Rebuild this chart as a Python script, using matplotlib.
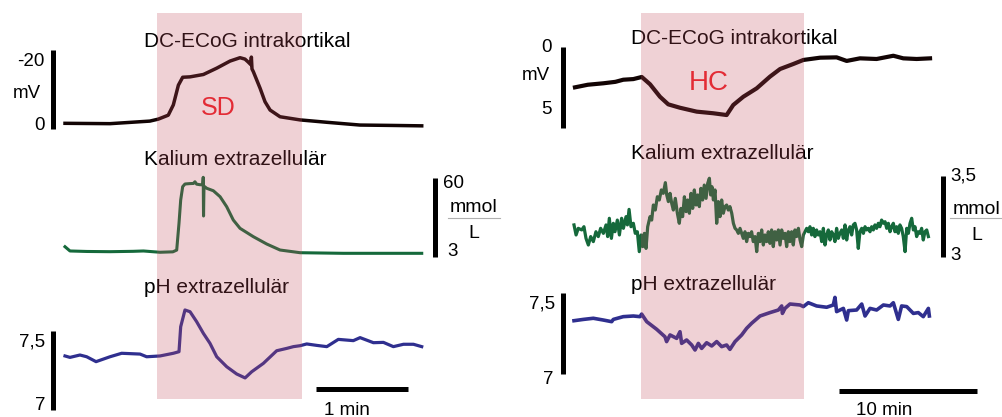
import matplotlib
matplotlib.use("Agg")
import matplotlib.pyplot as plt
from matplotlib.lines import Line2D
from matplotlib.transforms import blended_transform_factory

plt.rcParams["font.family"] = ["Liberation Sans", "DejaVu Sans"]

# ---------------- left panel: spreading depolarisation (time in s) ----------------
SD_EVENT = (60.7, 155.0)

sd_dc_t = [0.65, 30.0, 56.0, 61.5, 68.0, 71.3, 74.6, 77.4, 82.2, 90.9, 99.6, 108.3,
           114.8, 118.0, 120.0, 121.8, 122.2, 122.6, 123.5, 127.9, 131.1, 134.4,
           140.9, 154.0, 171.4, 193.0, 214.8, 233.3]
sd_dc_mv = [-1.44, -1.35, -2.0, -2.5, -3.5, -6.1, -11.1, -13.1, -13.2, -13.8, -15.4, -17.2,
            -18.05, -17.7, -17.0, -16.3, -18.2, -15.2, -14.5, -10.3, -6.9, -4.8,
            -3.1, -2.3, -1.7, -1.0, -0.9, -0.8]

sd_k_t = [0.65, 3.9, 15.0, 30.0, 45.0, 51.8, 62.6, 71.0, 73.5, 75.0, 76.1, 77.4, 78.9,
          82.0, 84.4, 85.4, 86.5, 88.7, 90.5, 90.8, 91.0, 91.3, 93.1, 97.4, 101.8,
          106.1, 110.4, 114.8, 123.5, 132.2, 140.9, 154.0, 182.2, 214.8, 233.3]
sd_k_mm = [4.43, 3.77, 3.70, 3.67, 3.72, 3.77, 3.59, 3.65, 3.9, 10.8, 26.0, 43.2, 47.8,
           48.5, 48.8, 52.0, 47.5, 46.5, 46.5, 61.6, 14.2, 44.0, 40.6, 37.0, 29.5,
           20.2, 12.2, 8.9, 6.48, 4.91, 3.91, 3.53, 3.45, 3.45, 3.45]

sd_ph_t = [0.65, 3.9, 10.4, 14.8, 20.9, 30.0, 37.6, 49.6, 53.9, 62.6, 71.3, 75.0, 76.1,
           78.9, 82.2, 86.5, 90.9, 95.2, 99.6, 106.1, 112.6, 118.1, 122.4, 130.0,
           138.7, 145.3, 149.6, 154.0, 158.3, 164.8, 171.4, 178.9, 188.7, 193.1,
           201.8, 208.3, 214.8, 221.4, 227.9, 233.3]
sd_ph = [7.342, 7.333, 7.348, 7.337, 7.306, 7.337, 7.359, 7.354, 7.337, 7.342, 7.359,
         7.369, 7.527, 7.633, 7.622, 7.559, 7.485, 7.422, 7.337, 7.274, 7.228, 7.203,
         7.242, 7.295, 7.375, 7.390, 7.401, 7.407, 7.418, 7.409, 7.401, 7.447, 7.439,
         7.458, 7.426, 7.428, 7.401, 7.416, 7.416, 7.401]

# ---------------- right panel: hypoxia / HC (time in min) ----------------
HC_EVENT = (4.86, 16.64)

hc_dc_t = [0.07, 1.0, 2.13, 3.0, 3.57, 4.3, 4.91, 5.51, 6.23, 6.83, 7.68, 8.89, 10.09,
           11.06, 11.54, 12.27, 13.24, 14.20, 14.93, 15.89, 16.62, 17.83, 19.03, 19.76,
           20.72, 21.93, 23.14, 23.86, 24.83, 25.80]
hc_dc_mv = [2.49, 2.33, 2.24, 2.15, 2.02, 1.98, 1.85, 2.30, 3.07, 3.54, 3.75, 3.99, 4.09,
            4.20, 3.58, 3.07, 2.55, 1.83, 1.36, 1.05, 0.80, 0.66, 0.64, 0.86,
            0.70, 0.74, 0.54, 0.70, 0.74, 0.70]

hc_k_t = [0.00, 0.15, 0.31, 0.56, 0.72, 0.87, 1.04, 1.21, 1.40, 1.59, 1.76, 1.93, 2.13,
          2.32, 2.44, 2.56, 2.71, 2.85, 2.97, 3.14, 3.29, 3.45, 3.58, 3.77, 3.87, 3.99,
          4.13, 4.30, 4.44, 4.59, 4.73, 4.86, 4.98, 5.10, 5.22, 5.34, 5.51, 5.63, 5.75,
          5.89, 6.04, 6.18, 6.33, 6.47, 6.62, 6.72, 6.84, 6.96, 7.08, 7.20, 7.34, 7.49,
          7.63, 7.75, 7.87, 8.00, 8.12, 8.24, 8.36, 8.48, 8.60, 8.72, 8.84, 8.96, 9.08,
          9.20, 9.32, 9.44, 9.57, 9.69, 9.81, 9.90, 10.00, 10.10, 10.22,
          10.34, 10.46, 10.58, 10.70, 10.82, 10.94, 11.06, 11.18, 11.30, 11.43, 11.55,
          11.67, 11.79, 11.91, 12.03, 12.15, 12.27, 12.39, 12.51, 12.63, 12.75, 12.87,
          12.99, 13.12, 13.24, 13.36, 13.48, 13.60, 13.72, 13.84, 13.96, 14.08, 14.20,
          14.32, 14.44, 14.56, 14.69, 14.81, 14.93, 15.05, 15.17, 15.29, 15.41, 15.53,
          15.65, 15.77, 15.89, 16.01, 16.13, 16.26, 16.38, 16.50, 16.62, 16.74, 16.86,
          16.98, 17.10, 17.22, 17.34, 17.46, 17.58, 17.70, 17.83, 17.95, 18.07, 18.19,
          18.31, 18.43, 18.55, 18.67, 18.79, 18.91, 19.03, 19.15, 19.27, 19.40, 19.52,
          19.64, 19.76, 19.88, 20.00, 20.12, 20.24, 20.36, 20.48, 20.60, 20.72, 20.85,
          20.97, 21.09, 21.21, 21.33, 21.45, 21.57, 21.69, 21.81, 21.93, 22.05, 22.17,
          22.29, 22.42, 22.54, 22.66, 22.78, 22.90, 23.02, 23.14, 23.26, 23.38, 23.50,
          23.62, 23.74, 23.86, 23.99, 24.11, 24.23, 24.35, 24.47, 24.59, 24.71, 24.83,
          24.95, 25.07, 25.19, 25.31, 25.43, 25.56, 25.68]
hc_k_mm = [3.198, 3.136, 3.177, 3.167, 3.187, 3.115, 3.074, 3.126, 3.095, 3.156, 3.126,
           3.177, 3.146, 3.198, 3.126, 3.239, 3.115, 3.208, 3.156, 3.228, 3.136, 3.239,
           3.177, 3.249, 3.198, 3.294, 3.187, 3.208, 3.146, 3.156, 3.033, 3.136, 3.064,
           3.146, 3.053, 3.187, 3.249, 3.228, 3.321, 3.290, 3.372, 3.352, 3.414, 3.393,
           3.459, 3.383, 3.342, 3.393, 3.331, 3.290, 3.362, 3.270, 3.208, 3.300, 3.249,
           3.372, 3.280, 3.352, 3.270, 3.393, 3.300, 3.414, 3.321, 3.383, 3.311, 3.424,
           3.352, 3.444, 3.362, 3.455, 3.486, 3.383, 3.434, 3.352, 3.414,
           3.208, 3.342, 3.249, 3.352, 3.270, 3.311, 3.321, 3.290, 3.311, 3.270, 3.208,
           3.177, 3.167, 3.146, 3.177, 3.146, 3.115, 3.156, 3.095, 3.146, 3.126, 3.156,
           3.095, 3.126, 3.033, 3.146, 3.095, 3.167, 3.074, 3.136, 3.095, 3.156, 3.084,
           3.167, 3.064, 3.156, 3.105, 3.167, 3.074, 3.167, 3.115, 3.146, 3.064, 3.156,
           3.095, 3.156, 3.074, 3.167, 3.126, 3.177, 3.105, 3.064, 3.136, 3.156, 3.177,
           3.156, 3.187, 3.136, 3.177, 3.126, 3.167, 3.136, 3.156, 3.095, 3.177, 3.074,
           3.136, 3.167, 3.105, 3.156, 3.136, 3.095, 3.177, 3.115, 3.146, 3.167, 3.115,
           3.198, 3.105, 3.167, 3.187, 3.136, 3.198, 3.208, 3.167, 3.053, 3.156, 3.177,
           3.146, 3.187, 3.167, 3.177, 3.156, 3.187, 3.167, 3.198, 3.177, 3.208, 3.187,
           3.228, 3.208, 3.218, 3.177, 3.208, 3.156, 3.187, 3.208, 3.156, 3.187, 3.146,
           3.198, 3.177, 3.126, 3.033, 3.177, 3.146, 3.208, 3.239, 3.167, 3.187, 3.126,
           3.156, 3.146, 3.177, 3.105, 3.156, 3.167, 3.126]

hc_ph_t = [0.00, 0.68, 1.40, 2.13, 2.73, 2.85, 3.57, 4.30, 4.78, 4.90, 5.27, 5.99, 6.59,
           6.71, 6.96, 7.44, 7.68, 7.80, 8.16, 8.53, 8.77, 9.01, 9.25, 9.61, 9.98, 10.34,
           10.70, 11.06, 11.30, 11.67, 12.15, 12.51, 12.87, 13.48, 14.20, 14.81, 15.05,
           15.10, 15.29, 15.65, 16.38, 16.62, 16.98, 17.58, 18.31, 18.79, 18.91, 19.03,
           19.52, 19.76, 19.88, 20.48, 20.85, 21.09, 21.45, 21.93, 22.42, 22.90, 23.14,
           23.50, 23.74, 24.11, 24.59, 24.95, 25.31, 25.68, 25.75]
hc_ph = [7.329, 7.337, 7.344, 7.333, 7.323, 7.337, 7.354, 7.358, 7.354, 7.370, 7.323,
         7.276, 7.230, 7.200, 7.241, 7.220, 7.261, 7.189, 7.210, 7.179, 7.148, 7.189,
         7.158, 7.193, 7.173, 7.200, 7.169, 7.179, 7.152, 7.200, 7.241, 7.282, 7.313,
         7.358, 7.379, 7.395, 7.420, 7.374, 7.405, 7.432, 7.426, 7.416, 7.440, 7.420,
         7.412, 7.426, 7.473, 7.385, 7.405, 7.333, 7.391, 7.395, 7.432, 7.358, 7.405,
         7.395, 7.426, 7.420, 7.440, 7.337, 7.420, 7.416, 7.374, 7.379, 7.354, 7.405,
         7.358]

# scale bar lengths
SD_TIME_BAR = 60      # s
HC_TIME_BAR = 10      # min

W, H = 1003, 417
BLACK = "#120404"
GREEN = "#15693b"
BLUE = "#2f2f8f"
RED = "#e32b35"

fig = plt.figure(figsize=(W / 100, H / 100), dpi=100)


def box(x0, y0, x1, y1):
    return [x0 / W, 1 - y1 / H, (x1 - x0) / W, (y1 - y0) / H]


def ftext(px, py, s, size=13.5, **kw):
    fig.text(px / W, 1 - py / H, s, fontsize=size, **kw)


def trace_ax(bounds, xspan, ylim, log=False):
    ax = fig.add_axes(box(*bounds))
    if log:
        ax.set_yscale("log")
    ax.set_xlim(0, xspan)
    ax.set_ylim(*ylim)
    ax.axis("off")
    return ax


def vbar(ax, px, lo, hi):
    pos = ax.get_position()
    xf = (px / W - pos.x0) / pos.width
    tr = blended_transform_factory(ax.transAxes, ax.transData)
    ax.plot([xf, xf], [lo, hi], transform=tr, color="black", lw=3.6,
            solid_capstyle="butt", clip_on=False)


def hbar(ax, t0, length, py):
    pos = ax.get_position()
    yf = ((1 - py / H) - pos.y0) / pos.height
    tr = blended_transform_factory(ax.transData, ax.transAxes)
    ax.plot([t0, t0 + length], [yf, yf], transform=tr, color="black", lw=3.6,
            solid_capstyle="butt", clip_on=False)


SD_SPAN = 359 * 60 / 92
HC_SPAN = 357 / 13.8

# --- left traces
ax1 = trace_ax((64, 50, 423, 129), SD_SPAN, (0, -20))
ax1.plot(sd_dc_t, sd_dc_mv, color=BLACK, lw=2.5, clip_on=False)
vbar(ax1, 53, 0, -20)

ax2 = trace_ax((64, 178, 423, 257), SD_SPAN, (3, 60), log=True)
ax2.plot(sd_k_t, sd_k_mm, color=GREEN, lw=2.2, clip_on=False)
vbar(ax2, 435, 3, 60)

ax3 = trace_ax((64, 331, 423, 410), SD_SPAN, (7.0, 7.5))
ax3.plot(sd_ph_t, sd_ph, color=BLUE, lw=2.3, clip_on=False)
vbar(ax3, 53, 7.0, 7.5)
hbar(ax3, 164.4, SD_TIME_BAR, 389)

# --- right traces
ax4 = trace_ax((574, 47, 931, 128), HC_SPAN, (5, 0))
ax4.plot(hc_dc_t, hc_dc_mv, color=BLACK, lw=3.0, clip_on=False)
vbar(ax4, 563, 0, 5)

ax5 = trace_ax((574, 176, 931, 257), HC_SPAN, (3.0, 3.5))
ax5.plot(hc_k_t, hc_k_mm, color=GREEN, lw=2.3, clip_on=False)
vbar(ax5, 943, 3.0, 3.5)

ax6 = trace_ax((574, 293, 931, 374), HC_SPAN, (7.0, 7.5))
ax6.plot(hc_ph_t, hc_ph, color=BLUE, lw=2.6, clip_on=False)
vbar(ax6, 563, 7.0, 7.5)
hbar(ax6, 19.2, HC_TIME_BAR, 391)

# --- event shading, laid over traces and titles
for bounds, span, ev in [((64, 13, 423, 399), SD_SPAN, SD_EVENT),
                         ((574, 13, 931, 399), HC_SPAN, HC_EVENT)]:
    ov = fig.add_axes(box(*bounds))
    ov.set_xlim(0, span)
    ov.set_ylim(0, 1)
    ov.axis("off")
    ov.set_zorder(10)
    ov.axvspan(*ev, color="#c34b5b", alpha=0.25, lw=0)

# --- trace titles (below the shading)
for px, py, s in [(144, 47, "DC-ECoG intrakortikal"), (144, 165, "Kalium extrazellulär"),
                  (144, 293, "pH extrazellulär"), (631, 44, "DC-ECoG intrakortikal"),
                  (631, 159, "Kalium extrazellulär"), (631, 290, "pH extrazellulär")]:
    ftext(px, py, s, size=15, ha="left", va="baseline", zorder=1)

ftext(218, 108, "SD", size=18, color=RED, ha="center", va="center", zorder=20)
ftext(709, 83, "HC", size=20, color=RED, ha="center", va="center", zorder=20)

# --- scale bar labels
ftext(45, 61, "-20", ha="right", va="center")
ftext(27, 94, "mV", ha="center", va="center")
ftext(45, 126, "0", ha="right", va="center")
ftext(45, 342, "7,5", ha="right", va="center")
ftext(45, 405, "7", ha="right", va="center")

ftext(552, 47, "0", ha="right", va="center")
ftext(550, 76, "mV", ha="right", va="center")
ftext(552, 110, "5", ha="right", va="center")
ftext(555, 304, "7,5", ha="right", va="center")
ftext(553, 380, "7", ha="right", va="center")

ftext(443, 184, "60", ha="left", va="center")
ftext(447, 251, "3", ha="left", va="center")
ftext(950, 176, "3,5", ha="left", va="center")
ftext(950, 255, "3", ha="left", va="center")

for cx, x0, x1, ym, yl in [(474, 448, 500, 208, 234), (977, 950, 1003, 210, 236)]:
    ftext(cx, ym, "mmol", size=14, ha="center", va="center")
    ftext(cx, yl, "L", size=14, ha="center", va="center")
    fig.add_artist(Line2D([x0 / W, x1 / W], [1 - 218 / H, 1 - 218 / H],
                          transform=fig.transFigure, color="#b0b0b0", lw=0.8))

ftext(347, 415, "1 min", ha="center", va="baseline")
ftext(884, 415, "10 min", ha="center", va="baseline")

fig.savefig("out.png", dpi=100)
